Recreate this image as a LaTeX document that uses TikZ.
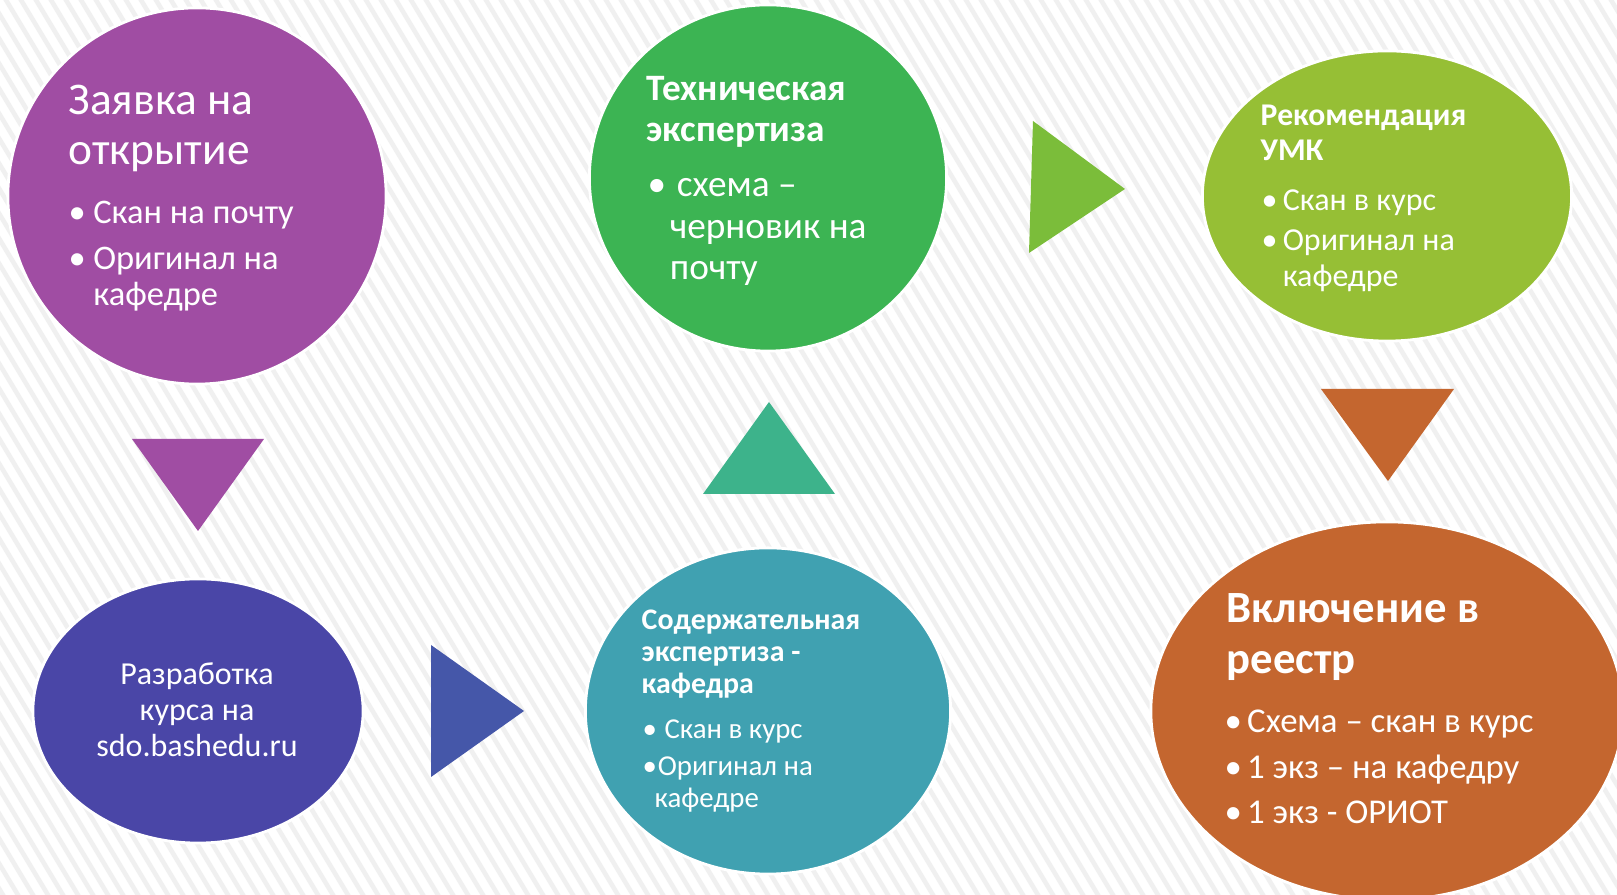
\documentclass[tikz,border=0pt]{standalone}
\usepackage{fontspec}
\setmainfont{Carlito}
\usetikzlibrary{shapes.geometric}

\definecolor{cZayavka}{HTML}{A04DA3}
\definecolor{cTech}{HTML}{3CB453}
\definecolor{cRekom}{HTML}{96BF35}
\definecolor{cRazrab}{HTML}{4A46A7}
\definecolor{cSoder}{HTML}{40A1B1}
\definecolor{cReestr}{HTML}{C4662F}
\definecolor{cTriBlue}{HTML}{4557A9}
\definecolor{cTriTeal}{HTML}{3DB38B}
\definecolor{cTriGreen}{HTML}{7BBD3A}

\newlength\bulind
\newcommand\fs[2]{\fontsize{#1}{#2}\selectfont\spaceskip=0pt\xspaceskip=0pt}
% bullet line with hanging indent; end each one with \par
\newcommand\itm[2][\bulind]{\noindent\hangindent=\bulind\hangafter=1\makebox[#1][l]{\textbullet}#2\par}

\begin{document}
\begin{tikzpicture}[
	x=0.01cm, y=-0.01cm,
	Blob/.style={ellipse, draw=white, line width=0.8pt, inner sep=0pt},
	Txt/.style={text=white, inner sep=0pt, anchor=base west, text width=5cm, align=left},
	Stripe/.style={draw=black!6, line width=1.3pt}
	]
	\useasboundingbox (0,0) rectangle (1617,895);
	\clip (0,0) rectangle (1617,895);
	\fill[white] (0,0) rectangle (1617,895);
	
	% background stripes
	\foreach \x in {-600,-585,...,1620}
	{ \draw[Stripe] (\x,-10) -- ++(549,915);
	}
	
	% stages
	\node[Blob, fill=cZayavka, minimum width=3.78cm, minimum height=3.76cm] (zayavka) at (197,196) {};
	\node[Blob, fill=cTech, minimum width=3.57cm, minimum height=3.46cm] (tech) at (768,178) {};
	\node[Blob, fill=cRekom, minimum width=3.69cm, minimum height=2.90cm] (rekom) at (1387,196) {};
	\node[Blob, fill=cRazrab, minimum width=3.30cm, minimum height=2.64cm] (razrab) at (198,711) {};
	\node[Blob, fill=cSoder, minimum width=3.65cm, minimum height=3.26cm] (soder) at (768,711) {};
	\node[Blob, fill=cReestr, minimum width=4.72cm, minimum height=3.78cm] (reestr) at (1387,711) {};
	
	% triangles between stages
	\fill[cZayavka] (132,439) -- (264,439) -- (198,531) -- cycle;
	\fill[cTriBlue] (431,645) -- (431,777) -- (524,711) -- cycle;
	\fill[cTriTeal] (703,494) -- (835,494) -- (769,402) -- cycle;
	\fill[cTriGreen] (1033,121) -- (1029,253) -- (1125,189) -- cycle;
	\fill[cReestr] (1321,389) -- (1454,389) -- (1388,481) -- cycle;
	
	% texts
	\node[Txt] (zayavka_t) at ([shift={(-129,-81)}]zayavka.center)
	{\fs{12.9pt}{14.2pt}Заявка на\newline открытие\par};
	\node[Txt] (zayavka_b) at ([shift={(-129,28)}]zayavka.center)
	{\fs{9.8pt}{10.2pt}\setlength\parskip{2.8pt}\setlength\bulind{7pt}%
	\itm{Скан на почту}\itm{Оригинал на\newline кафедре}};
	
	\node[Txt] (tech_t) at ([shift={(-122,-77)}]tech.center)
	{\fs{10.6pt}{11.5pt}\bfseries Техническая\newline экспертиза\par};
	\node[Txt] (tech_b) at ([shift={(-121,19)}]tech.center)
	{\fs{10.6pt}{11.7pt}\setlength\bulind{6.3pt}%
	\itm{\hspace{2pt}схема –\newline черновик на\newline почту}};
	
	\node[Txt] (rekom_t) at ([shift={(-127,-70)}]rekom.center)
	{\fs{9pt}{9.7pt}\bfseries Рекомендация\newline УМК\par};
	\node[Txt] (rekom_b) at ([shift={(-126,15)}]rekom.center)
	{\fs{9.1pt}{10.2pt}\setlength\parskip{1pt}\setlength\bulind{6pt}%
	\itm{Скан в курс}\itm{Оригинал на\newline кафедре}};
	
	\node[text=white, inner sep=0pt, anchor=base, text width=3cm, align=center] (razrab_t)
	at ([shift={(-1,-26)}]razrab.center)
	{\fs{9.1pt}{10.1pt}\centering Разработка\\курса на\\sdo.bashedu.ru\par};
	
	\node[Txt] (soder_t) at ([shift={(-127,-81)}]soder.center)
	{\fs{8.5pt}{9.1pt}\bfseries Содержательная\newline экспертиза -\newline кафедра\par};
	\node[Txt] (soder_b) at ([shift={(-126,28)}]soder.center)
	{\fs{8.2pt}{9.1pt}\setlength\parskip{1.4pt}\setlength\bulind{3.4pt}%
	\itm[6.2pt]{Скан в курс}\itm[4.3pt]{Оригинал на\newline кафедре}};
	
	\node[Txt] (reestr_t) at ([shift={(-161,-88)}]reestr.center)
	{\fs{12.7pt}{14.4pt}\bfseries Включение в\newline реестр\par};
	\node[Txt] (reestr_b) at ([shift={(-163,22)}]reestr.center)
	{\fs{9.9pt}{12.8pt}\setlength\bulind{6.4pt}%
	\itm{Схема – скан в курс}\itm{1 экз – на кафедру}\itm{1 экз - ОРИОТ}};
	
\end{tikzpicture}
\end{document}
